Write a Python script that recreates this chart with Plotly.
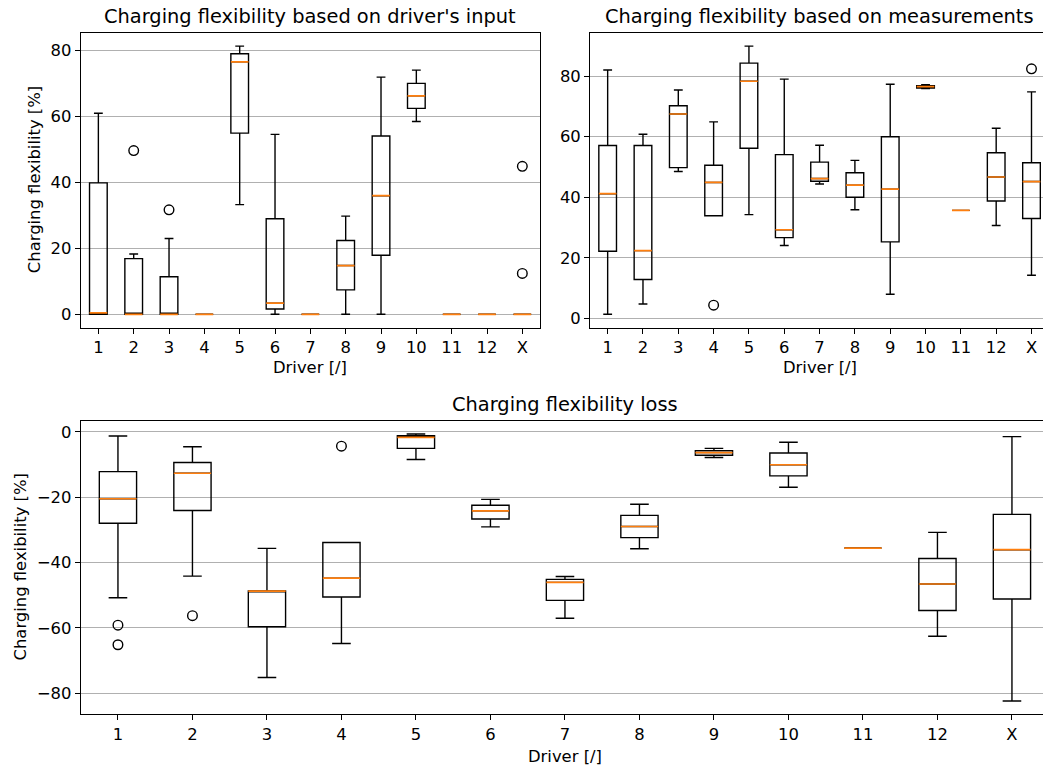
import plotly.graph_objects as go

# ---------------- data ----------------
drivers = ["1", "2", "3", "4", "5", "6", "7", "8", "9", "10", "11", "12", "X"]

# Charging flexibility based on driver's input
input_q1 = [0, 0, 0, 0, 55.0, 1.6, 0, 7.4, 17.9, 62.5, 0, 0, 0]
input_med = [0.4, 0, 0, 0, 76.6, 3.4, 0, 14.8, 36.0, 66.3, 0, 0, 0]
input_q3 = [39.9, 16.9, 11.4, 0, 79.1, 29.0, 0, 22.4, 54.1, 70.1, 0, 0, 0]
input_lo = [0, 0, 0, 0, 33.3, 0, 0, 0, 0, 58.5, 0, 0, 0]
input_hi = [61.0, 18.3, 23.0, 0, 81.4, 54.6, 0, 29.8, 72.0, 74.1, 0, 0, 0]
input_out_driver = ["2", "3", "X", "X"]
input_out_value = [49.7, 31.7, 44.9, 12.4]

# Charging flexibility based on measurements
meas_q1 = [22.2, 12.9, 49.8, 33.9, 56.2, 26.7, 45.3, 40.0, 25.3, 76.1, 35.7, 38.8, 33.0]
meas_med = [41.2, 22.4, 67.5, 44.9, 78.3, 29.3, 46.2, 44.0, 42.7, 76.5, 35.7, 46.7, 45.2]
meas_q3 = [57.1, 57.1, 70.2, 50.6, 84.3, 54.1, 51.6, 48.1, 60.0, 76.8, 35.7, 54.7, 51.4]
meas_lo = [1.4, 4.8, 48.5, 33.9, 34.3, 24.1, 44.4, 35.9, 8.0, 75.9, 35.7, 30.7, 14.3]
meas_hi = [82.0, 60.8, 75.4, 64.9, 89.9, 79.0, 57.2, 52.2, 77.3, 77.2, 35.7, 62.8, 74.8]
meas_out_driver = ["4", "X"]
meas_out_value = [4.4, 82.4]

# Charging flexibility loss
loss_q1 = [-28.0, -24.1, -59.7, -50.6, -5.1, -26.7, -51.6, -32.4, -7.2, -13.5, -35.6, -54.7, -51.2]
loss_med = [-20.5, -12.7, -48.8, -44.8, -1.7, -24.2, -46.1, -29.0, -6.4, -10.1, -35.6, -46.6, -36.1]
loss_q3 = [-12.2, -9.4, -48.7, -33.9, -1.2, -22.5, -45.2, -25.6, -5.8, -6.5, -35.6, -38.8, -25.3]
loss_lo = [-50.8, -44.2, -75.2, -64.8, -8.5, -29.1, -57.1, -35.8, -7.9, -17.0, -35.6, -62.6, -82.4]
loss_hi = [-1.3, -4.6, -35.7, -33.9, -0.7, -20.7, -44.3, -22.2, -5.1, -3.2, -35.6, -30.8, -1.5]
loss_out_driver = ["1", "1", "2", "4"]
loss_out_value = [-59.2, -65.2, -56.3, -4.4]

# ---------------- layout constants ----------------
W, H = 1043, 766
FONT = "DejaVu Sans"
TICK_PX = 16.4
TITLE_PX = 19.4
BOX_W = 0.5
ORANGE = "#ff7f0e"

positions = list(range(1, len(drivers) + 1))
pos_of = {d: p for d, p in zip(drivers, positions)}


def fx(px):
    return px / W


def fy(py):
    return 1 - py / H


panels = [
    ("", input_q1, input_med, input_q3, input_lo, input_hi, input_out_driver, input_out_value,
     (80.7, 540.0), (32.7, 327.7), 13.5, True),
    ("2", meas_q1, meas_med, meas_q3, meas_lo, meas_hi, meas_out_driver, meas_out_value,
     (590.0, 1043.0), (32.7, 327.7), 0.5 + 13 * (1043 - 590.0) / (13 * 35.32), False),
    ("3", loss_q1, loss_med, loss_q3, loss_lo, loss_hi, loss_out_driver, loss_out_value,
     (80.7, 1043.0), (420.7, 714.3), 0.5 + 13 * (1043 - 80.7) / (13 * 74.5), False),
]

fig = go.Figure()
layout = dict(
    width=W, height=H, margin=dict(l=0, r=0, t=0, b=0),
    paper_bgcolor="white", plot_bgcolor="white", showlegend=False,
    font=dict(family=FONT, size=TICK_PX, color="black"),
)

for suffix, q1, med, q3, lo, hi, od, ov, xd, yd, xmax, mirror_y in panels:
    xa = "x" + suffix
    ya = "y" + suffix
    fig.add_trace(go.Box(
        x=positions, q1=q1, median=med, q3=q3, lowerfence=lo, upperfence=hi,
        width=BOX_W, whiskerwidth=0.5, boxpoints=False,
        fillcolor="rgba(0,0,0,0)", line=dict(color="black", width=1.4),
        xaxis=xa, yaxis=ya, hoverinfo="skip",
    ))
    mx, my = [], []
    for p, m in zip(positions, med):
        mx += [p - BOX_W / 2, p + BOX_W / 2, None]
        my += [m, m, None]
    fig.add_trace(go.Scatter(
        x=mx, y=my, mode="lines", line=dict(color=ORANGE, width=1.7),
        xaxis=xa, yaxis=ya, hoverinfo="skip",
    ))
    fig.add_trace(go.Scatter(
        x=[pos_of[d] for d in od], y=ov, mode="markers",
        marker=dict(symbol="circle-open", size=9.6, color="black", line=dict(width=1.4)),
        xaxis=xa, yaxis=ya, hoverinfo="skip",
    ))
    allv = lo + hi + ov
    vmin, vmax = min(allv), max(allv)
    pad = 0.05 * (vmax - vmin)
    axis_common = dict(
        showline=True, linecolor="black", linewidth=1.1,
        ticks="outside", ticklen=4.9, tickwidth=1.1, tickcolor="black",
        tickfont=dict(family=FONT, size=TICK_PX, color="black"),
        zeroline=False,
    )
    layout["xaxis" + suffix] = dict(
        domain=[fx(xd[0]), fx(xd[1])], range=[0.5, xmax], anchor=ya,
        tickvals=positions, ticktext=drivers, showgrid=False, mirror=True,
        **axis_common,
    )
    layout["yaxis" + suffix] = dict(
        domain=[fy(yd[1]), fy(yd[0])], range=[vmin - pad, vmax + pad], anchor=xa,
        showgrid=True, gridcolor="#b0b0b0", gridwidth=1.1, dtick=20,
        mirror=mirror_y, **axis_common,
    )

fig.update_layout(**layout)

annotations = [
    # titles
    dict(text="Charging flexibility based on driver's input", x=fx(310.3), y=fy(16.5), size=TITLE_PX),
    dict(text="Charging flexibility based on measurements", x=fx(819.7), y=fy(16.5), size=TITLE_PX),
    dict(text="Charging flexibility loss", x=fx(565.0), y=fy(404.5), size=TITLE_PX),
    # x labels
    dict(text="Driver [/]", x=fx(310.3), y=fy(368.0), size=TICK_PX),
    dict(text="Driver [/]", x=fx(819.7), y=fy(368.0), size=TICK_PX),
    dict(text="Driver [/]", x=fx(565.0), y=fy(756.0), size=TICK_PX),
    # y labels
    dict(text="Charging flexibility [%]", x=fx(34.0), y=fy(180.2), size=TICK_PX, angle=-90),
    dict(text="Charging flexibility [%]", x=fx(20.0), y=fy(567.5), size=TICK_PX, angle=-90),
]
for a in annotations:
    fig.add_annotation(
        text=a["text"], x=a["x"], y=a["y"], xref="paper", yref="paper",
        xanchor="center", yanchor="middle", showarrow=False,
        textangle=a.get("angle", 0),
        font=dict(family=FONT, size=a["size"], color="black"),
    )

fig.write_html("out.html")
